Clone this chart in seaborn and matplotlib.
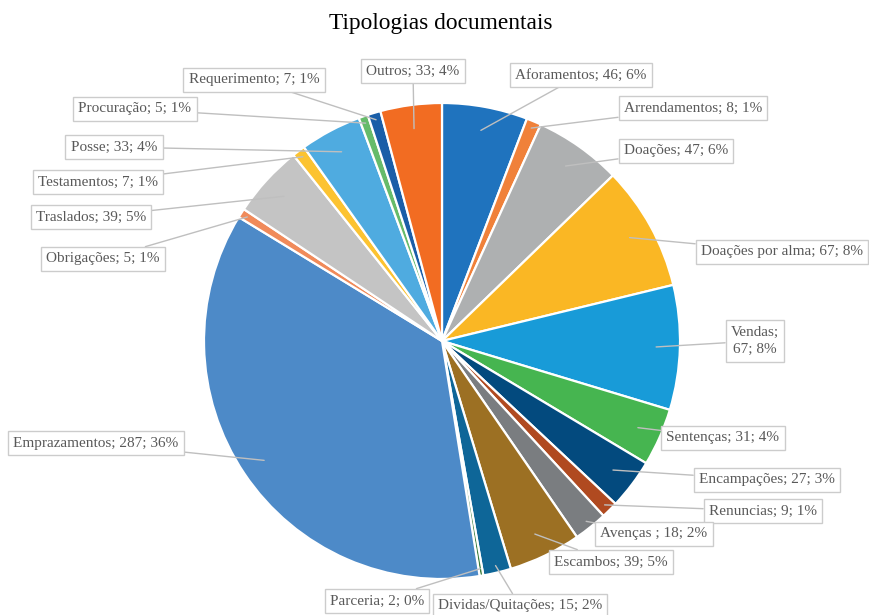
import matplotlib
matplotlib.use("Agg")
import matplotlib.pyplot as plt
import seaborn as sns
import numpy as np

categories = ["Aforamentos", "Arrendamentos", "Doações", "Doações por alma", "Vendas",
              "Sentenças", "Encampações", "Renuncias", "Avenças ", "Escambos",
              "Dividas/Quitações", "Parceria", "Emprazamentos", "Obrigações", "Traslados",
              "Testamentos", "Posse", "Procuração", "Requerimento", "Outros"]
values = [46, 8, 47, 67, 67, 31, 27, 9, 18, 39, 15, 2, 287, 5, 39, 7, 33, 5, 7, 33]
colors = ["#1F73BE", "#F0813A", "#AEB0B1", "#FAB724", "#189BD8",
          "#46B550", "#034A7E", "#B04A20", "#7A7D80", "#9C7023",
          "#0E6698", "#3A7D3A", "#4D8AC8", "#F08A5A", "#C4C4C4",
          "#FCC331", "#4FABE0", "#66BB6A", "#1A5EA8", "#F26C22"]
wrapped = {"Vendas"}

# label box centres in pixel coords (x from left, y from top)
label_pos = [(581, 75), (693, 108), (676, 151), (782, 252), (755, 341),
             (723, 438), (767, 480), (763, 511), (654, 534), (611, 562),
             (520, 606), (377, 601), (96, 443), (103, 259), (91, 217),
             (98, 182), (114, 147), (135, 109), (254, 80), (413, 71)]

sns.set_theme(style="white")
plt.rcParams['font.family'] = ['Liberation Serif', 'DejaVu Serif']

W, H = 870, 615
fig = plt.figure(figsize=(W / 100, H / 100), dpi=100)
ax = fig.add_axes([0, 0, 1, 1])

cx, cy, R = 442, H - 341, 238
wedges, _ = ax.pie(values, colors=colors, startangle=90, counterclock=False,
                   center=(cx, cy), radius=R, frame=True,
                   wedgeprops=dict(edgecolor="white", linewidth=1.6))
ax.set_xlim(0, W)
ax.set_ylim(0, H)
ax.axis("off")

total = sum(values)
for w, name, v, (lx, ly) in zip(wedges, categories, values, label_pos):
    mid = np.deg2rad((w.theta1 + w.theta2) / 2)
    frac = 0.9 if v > 20 else 0.97
    px, py = cx + frac * R * np.cos(mid), cy + frac * R * np.sin(mid)
    pct = round(v / total * 100)
    sep = ";\n" if name in wrapped else "; "
    txt = f"{name}{sep}{v}; {pct}%"
    ax.annotate(txt, xy=(px, py), xytext=(lx, H - ly), textcoords="data",
                ha="center", va="center", fontsize=11, color="#595959",
                linespacing=1.45,
                bbox=dict(boxstyle="square,pad=0.35", fc="white", ec="#CCCCCC", lw=1),
                arrowprops=dict(arrowstyle="-", color="#BFBFBF", lw=1,
                                shrinkA=0, shrinkB=0))

fig.text(441 / W, 1 - 23 / H, "Tipologias documentais", ha="center", va="center",
         fontsize=16.8, color="#000000")

fig.savefig("out.png", dpi=100, facecolor="white")
